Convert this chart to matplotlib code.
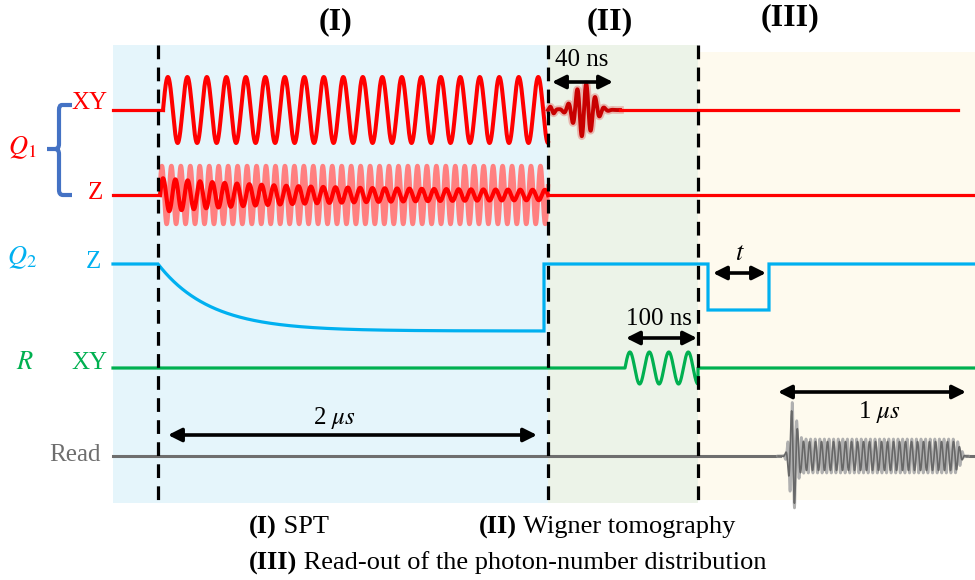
import numpy as np
import matplotlib.pyplot as plt
from matplotlib.patches import Rectangle, PathPatch
from matplotlib.path import Path

plt.rcParams['mathtext.fontset'] = 'stix'
SERIF = 'Liberation Serif'

# ---- text content ----
phase_labels = ["(I)", "(II)", "(III)"]
channel_labels = ["XY", "Z", "Z", "XY", "Read"]
device_labels = [r"$Q_1$", r"$Q_2$", r"$R$"]
duration_labels = [r"2 $\mu s$", "40 ns", "100 ns", r"1 $\mu s$", r"$t$"]
caption_bold = ["(I)", "(II)", "(III)"]
caption_text = [" SPT", " Wigner tomography", " Read-out of the photon-number distribution"]

# ---- waveform parameters (cycles per segment, relative amplitudes) ----
xy_drive_cycles = 19.75
z_fast_cycles = 41.0
z_slow_cycles = 31.5
z_slow_amp = [17.0, 4.5]      # initial / residual amplitude of the damped tone
pi_pulse_cycles = 8.0
r_drive_cycles = 3.75
q2_z_depth = 67.0
q2_t_depth = 46.0

RED = '#ff0000'
PINK = '#ff8080'
CYAN = '#00b0f0'
GREEN = '#00b050'
GRAY = '#6e6e6e'
LGRAY = '#b0b0b0'
BRACE = '#4472c4'

fig = plt.figure(figsize=(9.75, 5.8), dpi=100)
ax = fig.add_axes([0, 0, 1, 1])
ax.set_xlim(0, 975)
ax.set_ylim(580, 0)
ax.axis('off')

# layout: time boundaries of the three stages
x0, xa, xb, xc, xend = 113, 158, 548, 698, 975

ax.add_patch(Rectangle((x0, 45), xb - x0, 458, color='#e5f5fb', lw=0, zorder=0))
ax.add_patch(Rectangle((xb, 45), xc - xb, 458, color='#ecf3e8', lw=0, zorder=0))
ax.add_patch(Rectangle((xc, 52), xend - xc, 448, color='#fefaee', lw=0, zorder=0))

for xd in (xa, xb, xc):
    ax.plot([xd, xd], [45, 506], color='black', lw=2.3, dashes=(4.3, 2.6), zorder=6)

# ---- Q1 XY ----
y_xy1 = 110
ax.plot([x0, 163], [y_xy1, y_xy1], color=RED, lw=2.3, zorder=3)
x = np.linspace(163, xb, 3000)
ax.plot(x, y_xy1 - 33 * np.sin(2 * np.pi * xy_drive_cycles * (x - 163) / (xb - 163)),
        color=RED, lw=2.9, zorder=3)
# 40 ns Gaussian pulse
x = np.linspace(xb, 620, 800)
env = 27 * np.exp(-((x - 584) / 13.0) ** 2)
yp = y_xy1 - env * np.sin(2 * np.pi * pi_pulse_cycles * (x - xb) / (620 - xb)) \
    - 4 * np.exp(-((x - 552) / 4) ** 2) * np.sin(2 * np.pi * (x - xb) / 8)
ax.plot(x, yp, color='#e03030', lw=5.5, alpha=0.3, zorder=3)
ax.plot(x, yp, color='#c80000', lw=2.8, zorder=3)
ax.plot([620, 958], [y_xy1, y_xy1], color=RED, lw=2.3, zorder=3)

# ---- Q1 Z ----
y_z1 = 195
ax.plot([x0, 160], [y_z1, y_z1], color=RED, lw=2.3, zorder=3)
x = np.linspace(160, xb, 4000)
ax.plot(x, y_z1 - 29 * np.sin(2 * np.pi * z_fast_cycles * (x - 160) / (xb - 160) + 0.3),
        color=PINK, lw=3.2, zorder=3)
damp = z_slow_amp[1] + (z_slow_amp[0] - z_slow_amp[1]) * np.exp(-(x - 160) / 130)
ax.plot(x, y_z1 - damp * np.sin(2 * np.pi * z_slow_cycles * (x - 160) / (xb - 160)),
        color=RED, lw=3.0, zorder=4)
ax.plot([xb, xend], [y_z1, y_z1], color=RED, lw=2.3, zorder=3)

# ---- Q2 Z ----
y_z2 = 264
x = np.linspace(xa, 544, 1000)
yq2 = y_z2 + q2_z_depth * (1 - np.exp(-(x - xa) / 52))
xs = np.concatenate([[x0], x, [544, 544, 708, 708, 769, 769, xend]])
ys = np.concatenate([[y_z2], yq2, [yq2[-1], y_z2, y_z2, y_z2 + q2_t_depth,
                                   y_z2 + q2_t_depth, y_z2, y_z2]])
ax.plot(xs, ys, color=CYAN, lw=2.3, zorder=3, solid_joinstyle='miter')

# ---- R XY ----
y_r = 368
x = np.linspace(625, xc, 600)
xs = np.concatenate([[x0], x, [xc, xend]])
ys = np.concatenate([[y_r], y_r - 16 * np.sin(2 * np.pi * r_drive_cycles * (x - 625) / (xc - 625)),
                     [y_r, y_r]])
ax.plot(xs, ys, color=GREEN, lw=2.3, zorder=3)

# ---- Read ----
y_rd = 456
def smooth_step(x, a, b):
    s = np.clip((x - a) / (b - a), 0, 1)
    return s * s * (3 - 2 * s)
x = np.linspace(778, 968, 4000)
env = 17 * smooth_step(x, 792, 802) * (1 - smooth_step(x, 955, 966))
spike = 50 * np.exp(-((x - 793) / 4.5) ** 2)
light = y_rd - (env + 1.1 * spike) * np.sin(2 * np.pi * (x - 778) / 4.6 + 1.0)
dark = y_rd - (0.85 * env + spike) * np.sin(2 * np.pi * (x - 778) / 6.0)
ax.plot([x0, 780], [y_rd, y_rd], color=GRAY, lw=2.2, zorder=3)
ax.plot([966, xend], [y_rd, y_rd], color=GRAY, lw=2.2, zorder=3)
ax.plot(x, light, color=LGRAY, lw=2.0, zorder=3)
ax.plot(x, dark, color='#686868', lw=1.2, zorder=4)

# ---- channel labels ----
lab_kw = dict(family=SERIF, fontsize=18, ha='right', va='center')
ax.text(108, 103, channel_labels[0], color=RED, **lab_kw)
ax.text(103, 193, channel_labels[1], color=RED, **lab_kw)
ax.text(101, 262, channel_labels[2], color=CYAN, **lab_kw)
ax.text(108, 363, channel_labels[3], color=GREEN, **lab_kw)
ax.text(101, 455, channel_labels[4], color=GRAY, **lab_kw)
ax.text(22, 148, device_labels[0], color=RED, fontsize=19, ha='center', va='center')
ax.text(22, 258, device_labels[1], color=CYAN, fontsize=19, ha='center', va='center')
ax.text(25, 362, device_labels[2], color=GREEN, fontsize=19, ha='center', va='center')

# curly brace grouping the two Q1 lines
verts = [(72, 105), (62, 105), (59, 105), (59, 110), (59, 144), (59, 149), (55, 149), (47, 149),
         (55, 149), (59, 149), (59, 154), (59, 190), (59, 195), (63, 195), (72, 195)]
codes = [Path.MOVETO, Path.LINETO, Path.CURVE3, Path.CURVE3, Path.LINETO, Path.CURVE3, Path.CURVE3,
         Path.LINETO, Path.MOVETO, Path.CURVE3, Path.CURVE3, Path.LINETO, Path.CURVE3, Path.CURVE3,
         Path.LINETO]
ax.add_patch(PathPatch(Path(verts, codes), fill=False, edgecolor=BRACE, lw=3, capstyle='butt'))

# ---- duration arrows ----
arrow_kw = dict(arrowstyle='<|-|>', color='black', lw=2.6, mutation_scale=20, shrinkA=0, shrinkB=0)
def span(x1, x2, y):
    ax.annotate('', xy=(x2, y), xytext=(x1, y), arrowprops=arrow_kw, zorder=7)

span(168, 537, 435)
ax.text(335, 418, duration_labels[0], family=SERIF, fontsize=18, ha='center', va='center')
span(552, 613, 82)
ax.text(582, 60, duration_labels[1], family=SERIF, fontsize=18, ha='center', va='center')
span(626, 697, 338)
ax.text(659, 319, duration_labels[2], family=SERIF, fontsize=18, ha='center', va='center')
span(778, 966, 392)
ax.text(880, 412, duration_labels[3], family=SERIF, fontsize=18, ha='center', va='center')
span(713, 766, 273)
ax.text(740, 253, duration_labels[4], fontsize=19, ha='center', va='center')

# ---- stage headers ----
for lab, xp, yp in zip(phase_labels, (335, 610, 790), (22, 22, 18)):
    ax.text(xp, yp, lab, family=SERIF, fontweight='bold', fontsize=23, ha='center', va='center')

# ---- caption ----
fig.canvas.draw()
renderer = fig.canvas.get_renderer()
inv = ax.transData.inverted()
def caption(xs, y, bold, rest):
    t = ax.text(xs, y, bold, family=SERIF, fontweight='bold', fontsize=19, ha='left', va='center')
    bb = t.get_window_extent(renderer)
    x_end = inv.transform((bb.x1, bb.y0))[0]
    ax.text(x_end, y, rest, family=SERIF, fontsize=19, ha='left', va='center')

caption(249, 527, caption_bold[0], caption_text[0])
caption(479, 527, caption_bold[1], caption_text[1])
caption(249, 563, caption_bold[2], caption_text[2])

fig.savefig('out.png', dpi=100)
